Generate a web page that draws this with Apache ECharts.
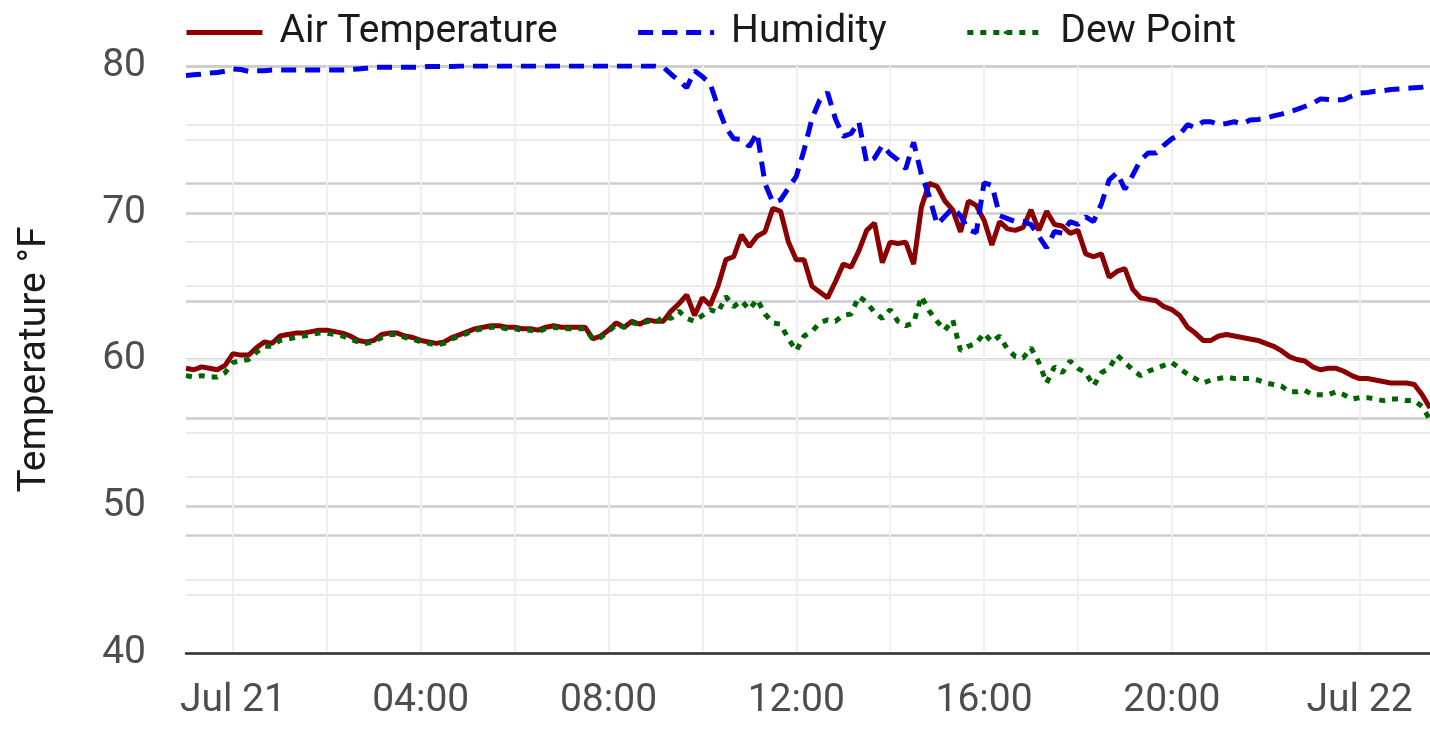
<!DOCTYPE html>
<html lang="en">
<head>
    <meta charset="UTF-8" />
    <title>Air Temperature, Humidity, Dew Point</title>
    <script src="https://cdn.jsdelivr.net/npm/echarts@6.0.0/dist/echarts.min.js"></script>
    <style>
        html, body { margin: 0; padding: 0; background: #ffffff; }
        #main { width: 1430px; height: 738px; }
    </style>
</head>
<body>
    <div id="main"></div>
    <script type="text/javascript">
        // readings every 10 minutes, hours from Jul 21 00:00 (starts 23:00 Jul 20)
        var startHour = -1;
        var stepHour = 1 / 6;

        var airTemp = [
            59.4, 59.3, 59.5, 59.4, 59.3, 59.6, 60.4, 60.3, 60.3, 60.8,
            61.2, 61.1, 61.6, 61.7, 61.8, 61.8, 61.9, 62.0, 62.0, 61.9,
            61.8, 61.6, 61.3, 61.2, 61.3, 61.7, 61.8, 61.8, 61.6, 61.5,
            61.3, 61.2, 61.1, 61.2, 61.5, 61.7, 61.9, 62.1, 62.2, 62.3,
            62.3, 62.2, 62.2, 62.1, 62.1, 62.0, 62.2, 62.3, 62.2, 62.2,
            62.2, 62.2, 61.4, 61.6, 62.0, 62.5, 62.2, 62.6, 62.4, 62.7,
            62.6, 62.6, 63.3, 63.8, 64.4, 63.0, 64.2, 63.7, 65.0, 66.8,
            67.0, 68.5, 67.7, 68.4, 68.7, 70.3, 70.1, 68.0, 66.8, 66.8,
            65.0, 64.6, 64.2, 65.3, 66.5, 66.3, 67.4, 68.8, 69.3, 66.6,
            68.0, 67.9, 68.0, 66.5, 70.4, 72.0, 71.8, 70.8, 70.2, 68.7,
            70.8, 70.5, 69.5, 67.8, 69.4, 68.9, 68.8, 69.0, 70.2, 68.8,
            70.1, 69.2, 69.1, 68.6, 68.8, 67.2, 67.0, 67.2, 65.6, 66.0,
            66.2, 64.8, 64.2, 64.1, 64.0, 63.6, 63.4, 63.0, 62.2, 61.8,
            61.3, 61.3, 61.6, 61.7, 61.6, 61.5, 61.4, 61.3, 61.1, 60.9,
            60.6, 60.2, 60.0, 59.9, 59.5, 59.3, 59.4, 59.4, 59.2, 58.9,
            58.7, 58.7, 58.6, 58.5, 58.4, 58.4, 58.4, 58.3, 57.6, 56.7
        ];

        // relative humidity %, drawn on the hidden right axis (0-100)
        var humidity = [
            98.4, 98.5, 98.6, 98.8, 98.9, 99.1, 99.5, 99.4, 99.1, 99.2,
            99.2, 99.3, 99.3, 99.3, 99.3, 99.3, 99.3, 99.3, 99.3, 99.3,
            99.3, 99.4, 99.5, 99.6, 99.8, 99.8, 99.8, 99.8, 99.8, 99.8,
            99.8, 99.9, 99.9, 99.9, 99.9, 100, 100, 100, 100, 100,
            100, 100, 100, 100, 100, 100, 100, 100, 100, 100,
            100, 100, 100, 100, 100, 100, 100, 100, 100, 100,
            100, 99.8, 98.6, 97.5, 96.3, 99.2, 98.2, 97.0, 93.0, 89.5,
            87.6, 87.5, 86.3, 88.6, 80.0, 76.8, 77.2, 79.2, 81.2, 85.7,
            91.0, 94.2, 95.5, 91.0, 88.0, 88.5, 90.5, 83.5, 84.3, 86.5,
            85.0, 84.0, 82.5, 87.0, 81.5, 77.8, 73.0, 74.4, 75.8, 74.5,
            72.1, 71.6, 80.1, 79.7, 74.5, 74.0, 73.5, 73.5, 73.0, 71.0,
            69.0, 71.8, 71.5, 73.5, 73.0, 74.3, 73.5, 76.5, 80.6, 81.8,
            79.0, 81.4, 84.0, 85.2, 85.2, 86.5, 87.6, 88.3, 90.0, 89.5,
            90.5, 90.5, 90.0, 90.2, 90.5, 90.1, 90.8, 90.9, 91.1, 91.5,
            91.8, 92.2, 92.6, 93.1, 93.6, 94.4, 94.3, 94.2, 94.3, 94.9,
            95.4, 95.5, 95.7, 95.8, 96.0, 96.1, 96.2, 96.3, 96.4, 96.7
        ];

        var dewPoint = [
            58.9, 58.8, 58.9, 58.8, 58.8, 59.1, 59.8, 59.9, 60.0, 60.5,
            60.9, 60.9, 61.3, 61.4, 61.5, 61.6, 61.7, 61.8, 61.8, 61.7,
            61.6, 61.4, 61.2, 61.1, 61.2, 61.5, 61.7, 61.7, 61.5, 61.4,
            61.2, 61.1, 61.0, 61.1, 61.4, 61.6, 61.8, 62.0, 62.1, 62.2,
            62.2, 62.1, 62.1, 62.0, 62.0, 61.9, 62.1, 62.2, 62.1, 62.1,
            62.1, 62.1, 61.4, 61.5, 61.9, 62.4, 62.2, 62.5, 62.4, 62.6,
            62.5, 62.9, 62.8, 63.3, 62.8, 62.6, 63.0, 63.4, 63.2, 64.3,
            63.6, 64.0, 63.4, 64.1, 63.1, 62.5, 62.4, 61.4, 60.6, 61.6,
            61.9, 62.5, 62.7, 62.6, 63.0, 63.1, 64.3, 63.9, 63.2, 62.8,
            63.4, 62.6, 62.3, 62.5, 64.3, 63.3, 62.6, 62.0, 62.7, 60.6,
            60.9, 61.1, 61.8, 61.2, 61.6, 60.7, 60.2, 60.1, 60.8, 59.8,
            58.4, 59.5, 59.1, 59.9, 59.4, 59.1, 58.2, 59.1, 59.4, 60.3,
            59.8, 59.3, 58.9, 59.2, 59.4, 59.6, 59.8, 59.4, 59.0, 58.7,
            58.4, 58.6, 58.7, 58.8, 58.7, 58.7, 58.7, 58.6, 58.4, 58.3,
            58.2, 57.8, 57.8, 57.9, 57.6, 57.6, 57.6, 57.8, 57.6, 57.3,
            57.4, 57.4, 57.3, 57.2, 57.3, 57.3, 57.2, 57.2, 56.8, 55.9
        ];

        var labelHours = [0, 4, 8, 12, 16, 20, 24];
        var gridHours = [0, 2, 4, 6, 8, 10, 12, 14, 16, 18, 20, 22, 24];
        var dayLabels = { 0: 'Jul 21', 24: 'Jul 22' };

        var times = airTemp.map(function (v, i) { return startHour + i * stepHour; });
        function pairs(arr) {
            return arr.map(function (v, i) { return [times[i], v]; });
        }

        var chartDom = document.getElementById('main');
        var myChart = echarts.init(chartDom);
        var fontName = 'Roboto';

        var majorLine = { show: true, lineStyle: { color: '#cccccc', width: 2.5 } };
        var minorLine = { show: true, lineStyle: { color: '#ebebeb', width: 2 } };

        var option = {
            animation: false,
            backgroundColor: '#ffffff',
            legend: {
                left: 179,
                top: 8,
                itemWidth: 76,
                itemHeight: 4,
                itemGap: 78,
                lineStyle: { width: 5 },
                textStyle: {
                    fontFamily: fontName,
                    fontSize: 39,
                    color: '#1a1a1a',
                    padding: [0, 0, 0, 12]
                },
                data: ['Air Temperature', 'Humidity', 'Dew Point']
            },
            grid: {
                left: 186,
                right: 0,
                top: 66,
                bottom: 85,
                containLabel: false,
                outerBoundsMode: 'none'
            },
            xAxis: {
                type: 'value',
                min: -1,
                max: 25.5,
                axisLine: { show: true, onZero: false, lineStyle: { color: '#333333', width: 2.5 } },
                axisTick: { show: false, customValues: gridHours },
                axisLabel: {
                    customValues: labelHours,
                    fontFamily: fontName,
                    fontSize: 39,
                    color: '#4d4d4d',
                    margin: 29,
                    formatter: function (v) {
                        if (dayLabels[v]) return dayLabels[v];
                        return (v < 10 ? '0' : '') + v + ':00';
                    }
                },
                splitLine: { show: true, lineStyle: { color: '#f0f0f0', width: 2 } }
            },
            yAxis: [
                {
                    type: 'value',
                    min: 40,
                    max: 80,
                    interval: 10,
                    name: 'Temperature °F',
                    nameLocation: 'middle',
                    nameGap: 131,
                    nameRotate: 90,
                    nameTextStyle: { fontFamily: fontName, fontSize: 39, color: '#1a1a1a' },
                    axisLine: { show: false },
                    axisTick: { show: false },
                    axisLabel: { fontFamily: fontName, fontSize: 39, color: '#4d4d4d', margin: 40 },
                    splitLine: majorLine,
                    minorTick: { show: false, splitNumber: 2 },
                    minorSplitLine: minorLine
                },
                {
                    type: 'value',
                    min: 0,
                    max: 100,
                    interval: 20,
                    position: 'right',
                    axisLine: { show: false },
                    axisTick: { show: false },
                    axisLabel: { show: false },
                    splitLine: majorLine,
                    minorTick: { show: false, splitNumber: 2 },
                    minorSplitLine: minorLine
                }
            ],
            series: [
                {
                    name: 'Air Temperature',
                    type: 'line',
                    yAxisIndex: 0,
                    symbol: 'none',
                    data: pairs(airTemp),
                    itemStyle: { color: '#8b0000' },
                    lineStyle: { color: '#8b0000', width: 5 }
                },
                {
                    name: 'Humidity',
                    type: 'line',
                    yAxisIndex: 1,
                    symbol: 'none',
                    data: pairs(humidity),
                    itemStyle: { color: '#0000ee' },
                    lineStyle: { color: '#0000ee', width: 5, type: [15, 9] }
                },
                {
                    name: 'Dew Point',
                    type: 'line',
                    yAxisIndex: 0,
                    symbol: 'none',
                    data: pairs(dewPoint),
                    itemStyle: { color: '#006400' },
                    lineStyle: { color: '#006400', width: 5, type: [6, 7] }
                }
            ]
        };
        option && myChart.setOption(option);
    </script>
</body>
</html>
